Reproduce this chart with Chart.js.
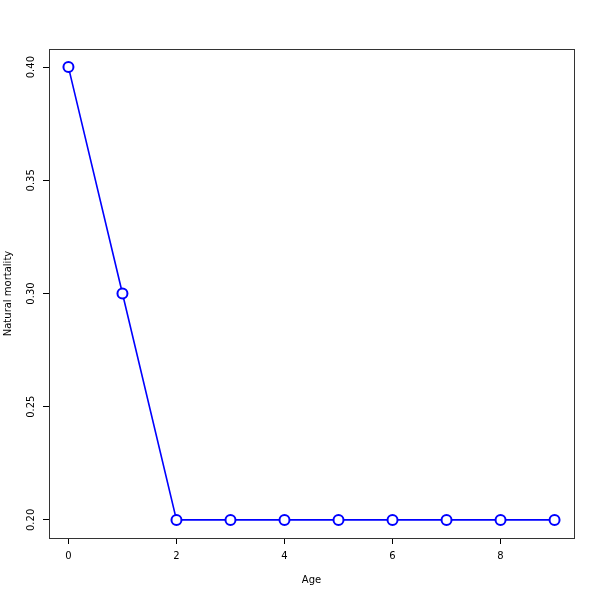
<!DOCTYPE html>
<html>
<head>
<meta charset="utf-8">
<script src="https://cdn.jsdelivr.net/npm/chart.js@4/dist/chart.umd.min.js"></script>
<style>
  html, body { margin: 0; padding: 0; background: #fff; }
  #wrap { width: 600px; height: 600px; }
</style>
</head>
<body>
<div id="wrap"><canvas id="chart" width="600" height="600"></canvas></div>
<script>
// data
const ages = [0, 1, 2, 3, 4, 5, 6, 7, 8, 9];
const mortality = [0.40, 0.30, 0.20, 0.20, 0.20, 0.20, 0.20, 0.20, 0.20, 0.20];
const xTicks = [0, 2, 4, 6, 8];
const yTicks = [0.20, 0.25, 0.30, 0.35, 0.40];

const FONT = 'DejaVu Sans, sans-serif';

// box round the plot + rotated y labels like R
const boxPlugin = {
  id: 'box',
  afterDraw(chart) {
    const ctx = chart.ctx;
    const a = chart.chartArea;
    ctx.save();
    ctx.strokeStyle = '#333';
    ctx.lineWidth = 1;
    ctx.strokeRect(a.left + 0.5, a.top + 0.5, a.right - a.left, a.bottom - a.top);

    const ys = chart.scales.y;
    ctx.fillStyle = '#000';
    ctx.font = '10px ' + FONT;
    ctx.textAlign = 'center';
    ctx.textBaseline = 'middle';
    yTicks.forEach(v => {
      const py = ys.getPixelForValue(v);
      ctx.save();
      ctx.translate(31, py);
      ctx.rotate(-Math.PI / 2);
      ctx.fillText(v.toFixed(2), 0, 0);
      ctx.restore();
    });
    ctx.restore();
  }
};

new Chart(document.getElementById('chart'), {
  type: 'line',
  data: {
    datasets: [{
      data: ages.map((a, i) => ({ x: a, y: mortality[i] })),
      borderColor: '#0000ff',
      borderWidth: 1.6,
      backgroundColor: '#ffffff',
      pointBackgroundColor: '#ffffff',
      pointBorderColor: '#0000ff',
      pointBorderWidth: 2,
      pointRadius: 5,
      tension: 0
    }]
  },
  options: {
    responsive: false,
    animation: false,
    events: [],
    layout: { padding: { top: 49, right: 26, left: 0, bottom: 0 } },
    plugins: { legend: { display: false }, tooltip: { enabled: false } },
    scales: {
      x: {
        type: 'linear',
        min: -0.36,
        max: 9.36,
        afterBuildTicks: s => { s.ticks = xTicks.map(v => ({ value: v })); },
        afterFit: s => { s.height = 62; },
        border: { display: false },
        grid: { drawOnChartArea: false, drawTicks: true, tickLength: 6, color: '#000' },
        ticks: { color: '#000', font: { family: FONT, size: 10 }, padding: 6, maxRotation: 0 },
        title: { display: true, text: 'Age', color: '#000', font: { family: FONT, size: 10 }, padding: { top: 0, bottom: 14 } }
      },
      y: {
        type: 'linear',
        min: 0.192,
        max: 0.408,
        afterBuildTicks: s => { s.ticks = yTicks.map(v => ({ value: v })); },
        afterFit: s => { s.width = 49; },
        border: { display: false },
        grid: { drawOnChartArea: false, drawTicks: true, tickLength: 6, color: '#000' },
        ticks: { color: 'rgba(0,0,0,0)', font: { family: FONT, size: 10 } },
        title: { display: true, text: 'Natural mortality', color: '#000', font: { family: FONT, size: 10 }, padding: { top: 2, bottom: 0 } }
      }
    }
  },
  plugins: [boxPlugin]
});
</script>
</body>
</html>
